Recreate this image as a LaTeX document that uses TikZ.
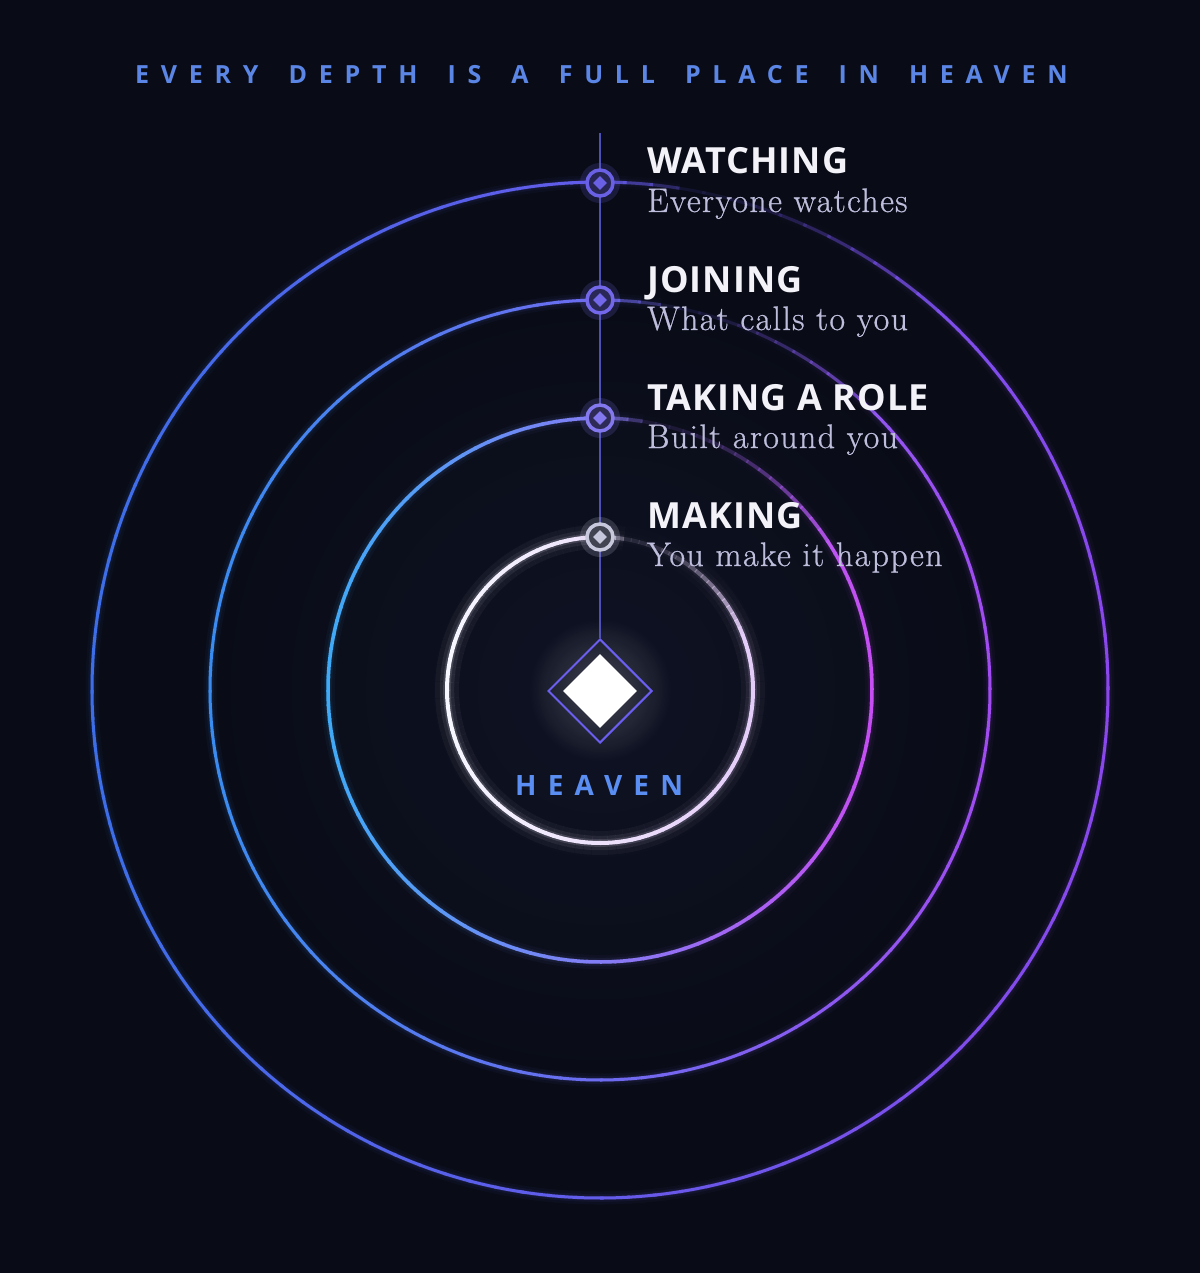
\documentclass[tikz,border=0pt]{standalone}
\usepackage{fontspec}
\usetikzlibrary{shapes.geometric,fadings}
\newfontfamily\sansb{Open Sans}[LetterSpace=3]
\newfontfamily\trackb{Open Sans}[LetterSpace=47, WordSpace=1.65]
\newfontfamily\trackc{Open Sans}[LetterSpace=40]
\newfontfamily\subserif{Latin Modern Roman}[LetterSpace=4, FakeBold=0.7]
\tikzfading[name=glowfade, inner color=transparent!0, outer color=transparent!100]
\definecolor{bg}{HTML}{090C16}
\definecolor{bgglow}{HTML}{161A32}
\definecolor{titleblue}{HTML}{5B86E6}
\definecolor{heavenblue}{HTML}{5B8EF2}
\definecolor{headc}{HTML}{F2F2F8}
\definecolor{subc}{HTML}{BEBEDC}
\definecolor{spine}{HTML}{5A5CD0}
\definecolor{gemline}{HTML}{6B5EF0}
\definecolor{oneL}{HTML}{3D6EE8}\definecolor{oneR}{HTML}{8A48EC}
\definecolor{twoL}{HTML}{3A8CF0}\definecolor{twoR}{HTML}{A04CF0}
\definecolor{thrL}{HTML}{40AAF6}\definecolor{thrR}{HTML}{C64EF2}
\definecolor{fouL}{HTML}{F6F7FF}\definecolor{fouR}{HTML}{E4CCF8}
\definecolor{mkone}{HTML}{6A60E6}
\definecolor{mktwo}{HTML}{7468EA}
\definecolor{mkthr}{HTML}{8478EE}
\definecolor{mkfou}{HTML}{C8C8DC}
% #1 radius, #2 left colour, #3 right colour, #4 angle where dim zone ends, #5 core width, #6 glow width
\newcommand\glowring[6]{%
  \foreach \a in {0,3,...,357}{%
    \pgfmathsetmacro\pct{50*(1-cos(\a+1.5))}%
    \pgfmathsetmacro\uu{(78-\a)/(78-#4)}%
    \pgfmathsetmacro\opc{(\a>=78 && \a<90) ? (0.1+0.9*(\a-78)/12) : ((\a>#4 && \a<78) ? (0.1+0.9*\uu*\uu) : 1)}%
    \pgfmathsetmacro\oga{0.045*\opc}%
    \pgfmathsetmacro\ogb{0.07*\opc}%
    \pgfmathsetmacro\ogc{0.14*\opc}%
    \colorlet{segc}{#2!\pct!#3}%
    \draw[segc, line width=#6, opacity=\oga] (600,690) ++(-\a:#1) arc[start angle=-\a, end angle=-\a-3, radius=#1];
    \draw[segc, line width=#6*0.6, opacity=\ogb] (600,690) ++(-\a:#1) arc[start angle=-\a, end angle=-\a-3, radius=#1];
    \draw[segc, line width=#6*0.32, opacity=\ogc] (600,690) ++(-\a:#1) arc[start angle=-\a, end angle=-\a-3, radius=#1];
    \draw[segc, line width=#5, opacity=\opc] (600,690) ++(-\a:#1) arc[start angle=-\a, end angle=-\a-3.4, radius=#1];
  }%
}
\tikzset{
  head/.style={anchor=base west, inner sep=0, text=headc, font=\sansb\bfseries\fontsize{36}{40}\selectfont},
  sub/.style={anchor=base west, inner sep=0, text=subc, font=\subserif\fontsize{34}{40}\selectfont},
  ringmark/.style={circle, draw=#1, line width=3.5, fill=#1!30!bg, minimum size=26, inner sep=0},
  markgem/.style={diamond, fill=#1, minimum width=14, minimum height=14, inner sep=0},
  markhalo/.style={circle, fill=#1, opacity=0.18, minimum size=40, inner sep=0}
}
\begin{document}
\begin{tikzpicture}[x=1pt, y=-1pt]
\useasboundingbox (0,0) rectangle (1200,1273);
\fill[bg] (0,0) rectangle (1200,1273);
\fill[bgglow, path fading=glowfade, opacity=0.5] (600,690) circle (430);
% rings
\glowring{508}{oneL}{oneR}{46}{3}{13}
\glowring{390}{twoL}{twoR}{42}{3}{13}
\glowring{272}{thrL}{thrR}{30}{3.5}{14}
\glowring{153}{fouL}{fouR}{20}{4}{24}
% centre glow
\fill[white, path fading=glowfade, opacity=0.22] (600,690) circle (72);
% central gem
\node[diamond, draw=gemline, line width=2, minimum width=104, minimum height=104, inner sep=0] (core) at (600,691) {};
\node[diamond, fill=white, minimum width=74, minimum height=74, inner sep=0] (gem) at (600,691) {};
% spine
\coordinate (top) at (600,133);
\draw[spine, line width=2, opacity=0.85] (top) -- (core.north);
% markers
\node[markhalo=mkone] (h1) at (600,183) {};
\node[ringmark=mkone] (m1) at (600,183) {};
\node[markgem=mkone] (g1) at (m1) {};
\node[markhalo=mktwo] (h2) at (600,300) {};
\node[ringmark=mktwo] (m2) at (600,300) {};
\node[markgem=mktwo] (g2) at (m2) {};
\node[markhalo=mkthr] (h3) at (600,418) {};
\node[ringmark=mkthr] (m3) at (600,418) {};
\node[markgem=mkthr] (g3) at (m3) {};
\node[markhalo=mkfou] (h4) at (600,537) {};
\node[ringmark=mkfou] (m4) at (600,537) {};
\node[markgem=mkfou] (g4) at (m4) {};
% labels
\node[head] (t1) at (647,174) {WATCHING};
\node[sub] (s1) at (647,212) {Everyone watches};
\node[head] (t2) at (647,292) {JOINING};
\node[sub] (s2) at (647,330) {What calls to you};
\node[head] (t3) at (647,410) {TAKING A ROLE};
\node[sub] (s3) at (647,448) {Built around you};
\node[head] (t4) at (647,528) {MAKING};
\node[sub] (s4) at (647,566) {You make it happen};
% titles
\node[anchor=base west, inner sep=0, text=titleblue, font=\trackb\bfseries\fontsize{25}{28}\selectfont] (title) at (135,84) {EVERY DEPTH IS A FULL PLACE IN HEAVEN};
\node[anchor=base west, inner sep=0, text=heavenblue, font=\trackc\bfseries\fontsize{28}{32}\selectfont] (heaven) at (515,795) {HEAVEN};
\end{tikzpicture}
\end{document}
